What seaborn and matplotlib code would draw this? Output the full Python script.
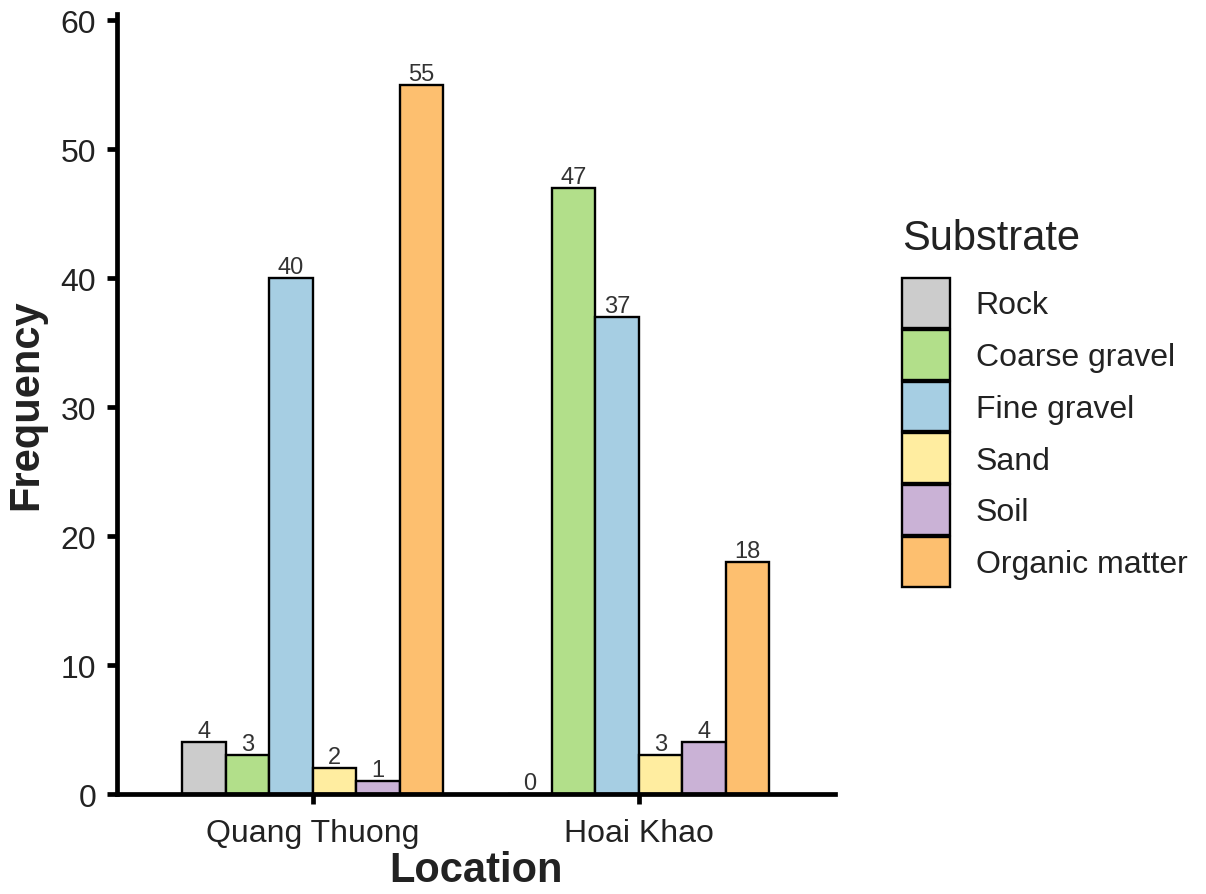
import matplotlib
matplotlib.use("Agg")
import matplotlib.pyplot as plt
import seaborn as sns
import pandas as pd
from matplotlib.patches import Patch

locations = ["Quang Thuong", "Hoai Khao"]
substrates = ["Rock", "Coarse gravel", "Fine gravel", "Sand", "Soil", "Organic matter"]
quang_thuong = [4, 3, 40, 2, 1, 55]
hoai_khao = [0, 47, 37, 3, 4, 18]
colors = ["#cccccc", "#b2df8a", "#a6cee3", "#ffeda0", "#cab2d6", "#fdbf6f"]

rows = []
for loc, vals in zip(locations, [quang_thuong, hoai_khao]):
    for s, v in zip(substrates, vals):
        rows.append({"Location": loc, "Substrate": s, "Frequency": v})
df = pd.DataFrame(rows)

sns.set_theme(style="white")
plt.rcParams["font.family"] = ["Liberation Sans", "DejaVu Sans"]

fig = plt.figure(figsize=(12.06, 8.95), dpi=100)
ax = fig.add_axes([0.097, 0.1117, 0.595, 0.872])

sns.barplot(data=df, x="Location", y="Frequency", hue="Substrate",
            order=locations, hue_order=substrates,
            palette=dict(zip(substrates, colors)), width=0.8,
            edgecolor="black", linewidth=1.7, saturation=1,
            ax=ax, legend=False)

for cont in ax.containers:
    ax.bar_label(cont, fontsize=17, color="#333333", padding=0)

ax.set_xlim(-0.6, 1.6)
ax.set_ylim(0, 60.5)
ax.set_yticks([0, 10, 20, 30, 40, 50, 60])
for side in ["top", "right"]:
    ax.spines[side].set_visible(False)
for side in ["left", "bottom"]:
    ax.spines[side].set_linewidth(3.4)
    ax.spines[side].set_color("black")
    ax.spines[side].set_capstyle("projecting")
ax.tick_params(axis="both", which="major", length=7, width=3.4, color="black",
               labelsize=23, labelcolor="#222222", direction="out",
               bottom=True, left=True)
ax.tick_params(axis="y", pad=8)
ax.tick_params(axis="x", pad=10)
ax.set_xlabel("Location", fontsize=30, fontweight="bold", labelpad=2, color="#222222")
ax.set_ylabel("Frequency", fontsize=30, fontweight="bold", labelpad=10, color="#222222")

handles = [Patch(facecolor=c, edgecolor="black", linewidth=1.7) for c in colors]
leg = fig.legend(handles, substrates, loc="upper left", bbox_to_anchor=(0.748, 0.755),
                 frameon=False, fontsize=23, title="Substrate", title_fontsize=30,
                 handlelength=1.5, handleheight=2.03, labelspacing=0.06,
                 handletextpad=0.8, alignment="left", borderaxespad=0, borderpad=0)
leg._legend_box.sep = 14
for t in leg.get_texts():
    t.set_color("#222222")
leg.get_title().set_color("#222222")

fig.savefig("out.png", dpi=100)
